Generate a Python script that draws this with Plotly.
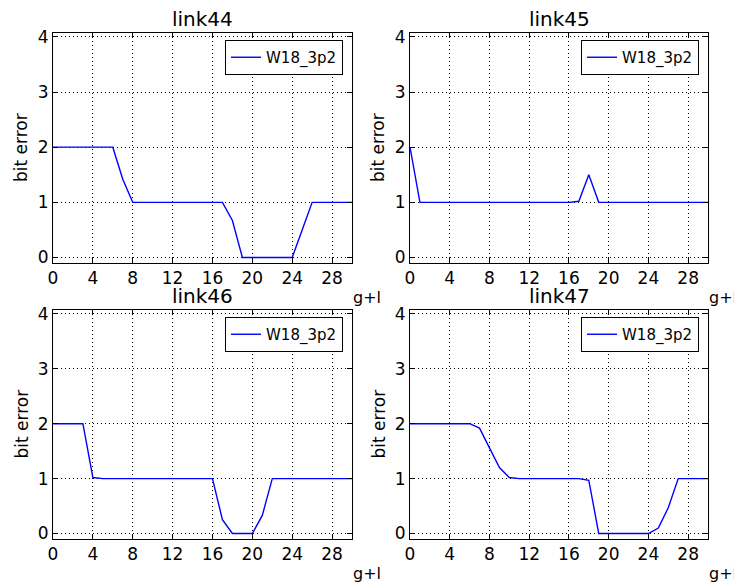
import plotly.graph_objects as go

x_vals = list(range(0, 31))
series_name = "W18_3p2"
titles = ["link44", "link45", "link46", "link47"]

link44 = [2, 2, 2, 2, 2, 2, 2, 1.42, 1, 1, 1, 1, 1, 1, 1, 1, 1, 1, 0.67, 0, 0, 0, 0, 0, 0, 0.5, 1, 1, 1, 1, 1]
link45 = [2, 1, 1, 1, 1, 1, 1, 1, 1, 1, 1, 1, 1, 1, 1, 1, 1, 1.02, 1.5, 1, 1, 1, 1, 1, 1, 1, 1, 1, 1, 1, 1]
link46 = [2, 2, 2, 2, 1.02, 1, 1, 1, 1, 1, 1, 1, 1, 1, 1, 1, 1, 0.25, 0, 0, 0, 0.33, 1, 1, 1, 1, 1, 1, 1, 1, 1]
link47 = [2, 2, 2, 2, 2, 2, 2, 1.92, 1.55, 1.2, 1.02, 1, 1, 1, 1, 1, 1, 1, 0.97, 0, 0, 0, 0, 0, 0, 0.1, 0.47, 1, 1, 1, 1]
series = [link44, link45, link46, link47]

x_ticks = list(range(0, 30, 4))
y_ticks = [0, 1, 2, 3, 4]

# The page body has an 8px margin, so the figure is drawn 8px smaller and
# all reference pixel positions are shifted by that offset.
OFF = 8
W, H = 742 - OFF, 587 - OFF
FONT = "DejaVu Sans"

# pixel boxes in the reference screenshot (left, right, top, bottom)
boxes = [(53, 352, 33, 263), (410, 708, 33, 263), (53, 352, 310, 539), (410, 708, 310, 539)]


def px(v):
    return (v - OFF) / W


def py(v):
    return 1 - (v - OFF) / H


fig = go.Figure()
for i, (ys, box) in enumerate(zip(series, boxes)):
    n = "" if i == 0 else str(i + 1)
    fig.add_trace(go.Scatter(
        x=x_vals, y=ys, mode="lines", name=series_name,
        line=dict(color="#0000ff", width=1.4),
        xaxis="x" + n, yaxis="y" + n,
        legend="legend" + n, showlegend=True,
    ))
    l, r, t, b = box
    common = dict(
        ticks="inside", ticklen=5, tickcolor="black", mirror="ticks",
        showline=True, linecolor="black", linewidth=1,
        showgrid=True, gridcolor="black", griddash="1px,3px", gridwidth=1,
        zeroline=False, tickfont=dict(family=FONT, size=17, color="black"),
        automargin=False,
    )
    fig.layout["xaxis" + n] = dict(
        domain=[px(l), px(r)], range=[0, 30], tickvals=x_ticks,
        anchor="y" + n, **common,
    )
    fig.layout["yaxis" + n] = dict(
        domain=[py(b), py(t)], range=[-0.1, 4.07], tickvals=y_ticks,
        anchor="x" + n, **common,
    )
    fig.layout["legend" + n] = dict(
        x=px(r - 9), y=py(t + 7), xanchor="right", yanchor="top",
        bordercolor="black", borderwidth=1, bgcolor="white",
        font=dict(family=FONT, size=15, color="black"),
        itemwidth=30, tracegroupgap=0,
    )
    fig.add_annotation(
        text=titles[i], x=px((l + r) / 2), y=py(t - 14), xref="paper", yref="paper",
        xanchor="center", yanchor="middle", showarrow=False,
        font=dict(family=FONT, size=20, color="black"),
    )
    fig.add_annotation(
        text="g+l", x=px(r - 1), y=py(b + 34), xref="paper", yref="paper",
        xanchor="left", yanchor="middle", showarrow=False,
        font=dict(family=FONT, size=16, color="black"),
    )
    fig.add_annotation(
        text="bit error", x=px(l - 32), y=py((t + b) / 2), xref="paper", yref="paper",
        xanchor="center", yanchor="middle", showarrow=False, textangle=-90,
        font=dict(family=FONT, size=17, color="black"),
    )

fig.update_layout(
    width=W, height=H, margin=dict(l=0, r=0, t=0, b=0),
    paper_bgcolor="white", plot_bgcolor="white",
    font=dict(family=FONT, color="black"),
)
fig.write_html("out.html")
